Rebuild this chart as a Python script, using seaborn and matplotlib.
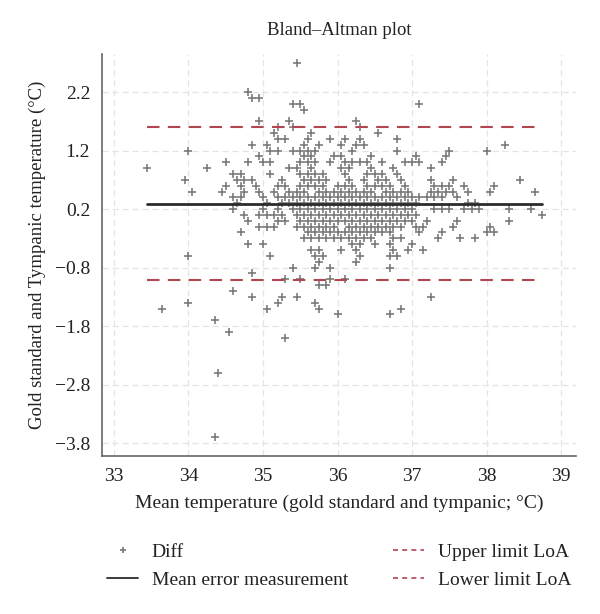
import pandas as pd
import matplotlib
matplotlib.use("Agg")
import matplotlib.pyplot as plt
import seaborn as sns
from matplotlib.lines import Line2D

# Differences (gold standard - tympanic) are on a 0.1 grid
diff_levels = [2.7, 2.2, 2.1, 2.0, 1.9, 1.7, 1.6, 1.5, 1.4, 1.3, 1.2, 1.1, 1.0, 0.9, 0.8,
               0.7, 0.6, 0.5, 0.4, 0.3, 0.2, 0.1, 0.0, -0.1, -0.2, -0.3, -0.4, -0.5,
               -0.6, -0.7, -0.8, -0.9, -1.0, -1.1, -1.2, -1.3, -1.4, -1.5, -1.6, -1.7,
               -1.9, -2.0, -2.6, -3.7]

# Mean temperatures of the points on each difference row
means_per_level = [
    [35.45],
    [34.80],
    [34.85, 34.95],
    [35.40, 35.50, 37.10],
    [35.55],
    [34.95, 35.35, 36.25],
    [35.20, 35.40, 36.30],
    [35.15, 35.65, 36.55],
    [35.20, 35.30, 35.60, 35.90, 36.10, 36.30, 36.80],
    [34.85, 35.05, 35.55, 35.75, 36.05, 36.25, 36.35, 38.25],
    [34.00, 35.10, 35.20, 35.40, 35.50, 35.60, 35.70, 36.20, 36.80, 37.50, 38.00],
    [34.95, 35.55, 35.65, 35.95, 36.05, 36.45, 37.05, 37.45],
    [34.50, 34.80, 35.00, 35.10, 35.50, 35.60, 35.70, 35.90, 36.10, 36.20, 36.30,
     36.40, 36.60, 36.90, 37.00, 37.10, 37.40],
    [33.45, 34.25, 35.35, 35.45, 35.65, 36.05, 36.15, 36.45, 36.75, 37.25],
    [34.60, 34.70, 35.10, 35.50, 35.60, 35.70, 35.80, 36.10, 36.40, 36.50, 36.60, 36.80],
    [33.95, 34.65, 34.75, 34.85, 35.25, 35.55, 35.65, 35.75, 35.85, 36.15, 36.35,
     36.55, 36.65, 36.85, 37.25, 37.55, 38.45],
    [34.50, 34.70, 34.90, 35.20, 35.30, 35.50, 35.60, 35.70, 35.80, 36.00, 36.10,
     36.20, 36.40, 36.50, 36.60, 36.70, 36.90, 37.30, 37.40, 37.50, 37.70, 38.10],
    [34.05, 34.45, 34.75, 34.95, 35.15, 35.35, 35.45, 35.55, 35.75, 35.85, 35.95,
     36.05, 36.15, 36.25, 36.35, 36.45, 36.65, 36.75, 36.85, 36.95, 37.25, 37.35,
     37.45, 37.55, 37.75, 38.05, 38.65],
    [34.60, 34.70, 35.00, 35.20, 35.30, 35.40, 35.50, 35.60, 35.70, 35.80, 35.90,
     36.00, 36.10, 36.20, 36.30, 36.40, 36.50, 36.60, 36.70, 36.80, 36.90, 37.00,
     37.10, 37.20, 37.30, 37.40, 37.60],
    [34.65, 35.05, 35.25, 35.35, 35.45, 35.55, 35.65, 35.75, 35.85, 35.95, 36.05,
     36.15, 36.25, 36.35, 36.45, 36.55, 36.65, 36.75, 36.85, 36.95, 37.05, 37.75, 37.85],
    [34.60, 35.00, 35.20, 35.40, 35.50, 35.60, 35.70, 35.80, 35.90, 36.00, 36.10,
     36.20, 36.30, 36.40, 36.50, 36.60, 36.70, 36.80, 36.90, 37.00, 37.30, 37.40,
     37.50, 37.70, 37.80, 37.90, 38.30, 38.60],
    [34.75, 34.95, 35.05, 35.15, 35.25, 35.45, 35.55, 35.65, 35.75, 35.85, 35.95,
     36.05, 36.15, 36.25, 36.35, 36.45, 36.55, 36.65, 36.75, 36.85, 36.95, 37.05, 38.75],
    [34.80, 35.20, 35.30, 35.50, 35.60, 35.70, 35.80, 35.90, 36.00, 36.10, 36.20,
     36.30, 36.40, 36.50, 36.60, 36.70, 36.80, 36.90, 37.00, 37.20, 37.60, 38.30],
    [34.95, 35.05, 35.15, 35.45, 35.55, 35.65, 35.75, 35.85, 35.95, 36.15, 36.25,
     36.35, 36.45, 36.55, 36.65, 36.75, 36.85, 37.05, 37.15, 37.55, 38.05],
    [34.70, 35.60, 35.70, 35.80, 35.90, 36.00, 36.10, 36.20, 36.30, 36.40, 36.50,
     36.60, 36.70, 37.10, 37.40, 38.00, 38.10],
    [35.55, 35.65, 35.75, 35.85, 35.95, 36.05, 36.15, 36.25, 36.35, 36.45, 36.75,
     36.85, 37.35, 37.65, 37.85],
    [34.80, 35.00, 36.20, 36.30, 36.50, 36.70, 37.00],
    [35.65, 35.75, 36.05, 36.25, 36.75, 36.95, 37.15],
    [34.00, 35.10, 35.70, 35.80, 36.30, 36.70, 36.80],
    [35.75, 36.25],
    [35.40, 35.70, 35.90, 36.70],
    [34.85],
    [35.30, 35.50, 35.90, 36.10],
    [35.75, 35.85],
    [34.60],
    [34.85, 35.25, 35.45, 37.25],
    [34.00, 35.20, 35.70],
    [33.65, 35.05, 35.75, 36.85],
    [36.00, 36.70],
    [34.35],
    [34.55],
    [35.30],
    [34.40],
    [34.35],
]

mean_error = 0.29
upper_loa = 1.60
lower_loa = -1.02

x_ticks = [33, 34, 35, 36, 37, 38, 39]
y_ticks = [2.2, 1.2, 0.2, -0.8, -1.8, -2.8, -3.8]

records = []
for d, xs in zip(diff_levels, means_per_level):
    for m in xs:
        records.append({"mean": m, "diff": d})
df = pd.DataFrame(records)

sns.set_style("white")
plt.rcParams["font.family"] = ["Liberation Serif", "DejaVu Serif"]

fig = plt.figure(figsize=(6.0, 6.14), dpi=100)
ax = fig.add_axes([0.17, 0.2573, 0.79, 0.6547])

point_color = "#777777"
loa_color = "#b0464f"

sns.scatterplot(data=df, x="mean", y="diff", marker="+", s=38, color=point_color,
                linewidth=1.15, ax=ax, legend=False, zorder=3)

x0, x1 = df["mean"].min(), df["mean"].max()
ax.plot([x0, x1], [mean_error, mean_error], color="#2b2b2b", lw=2.0, zorder=4)
ax.plot([x0, x1], [upper_loa, upper_loa], color=loa_color, lw=1.5,
        dashes=(6, 4), zorder=4)
ax.plot([x0, x1], [lower_loa, lower_loa], color=loa_color, lw=1.5,
        dashes=(6, 4), zorder=4)

ax.set_xlim(32.84, 39.2)
ax.set_ylim(-4.02, 2.85)
ax.set_xticks(x_ticks)
ax.set_xticklabels([str(t) for t in x_ticks])
ax.set_yticks(y_ticks)
ax.set_yticklabels([f"{t:.1f}".replace("-", "\u2212") for t in y_ticks])

ax.grid(True, color="#e4e4e4", lw=0.9, linestyle=(0, (5, 3)), zorder=0)
for side in ["top", "right"]:
    ax.spines[side].set_visible(False)
for side in ["left", "bottom"]:
    ax.spines[side].set_color("#666666")
    ax.spines[side].set_linewidth(1.2)
ax.tick_params(axis="both", direction="out", length=5, width=1.0, color="#666666",
               labelsize=14, labelcolor="#222222")

ax.set_xlabel("Mean temperature (gold standard and tympanic; \u00b0C)", fontsize=14,
              color="#222222", labelpad=7)
ax.set_ylabel("Gold standard and Tympanic temperature (\u00b0C)", fontsize=13.5,
              color="#222222", labelpad=6)
ax.set_title("Bland\u2013Altman plot", fontsize=13.5, color="#222222", pad=14)

handles = [
    Line2D([], [], marker="+", color=point_color, lw=0, markersize=5, mew=1.2),
    Line2D([], [], color="#2b2b2b", lw=1.3),
    Line2D([], [], color=loa_color, lw=1.2, dashes=(3, 2.5)),
    Line2D([], [], color=loa_color, lw=1.2, dashes=(3, 2.5)),
]
labels = ["Diff", "Mean error measurement", "Upper limit LoA", "Lower limit LoA"]
fig.legend(handles, labels, ncol=2, loc="center", bbox_to_anchor=(0.565, 0.078),
           frameon=False, fontsize=14, handlelength=1.6, columnspacing=2.3,
           labelspacing=0.55, handletextpad=0.7, labelcolor="#222222")

fig.savefig("out.png", dpi=100)
